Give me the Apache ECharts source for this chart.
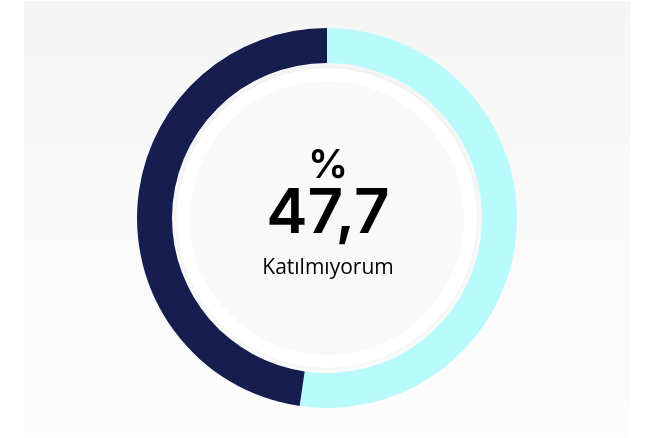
<!DOCTYPE html>
<html>
<head>
<meta charset="utf-8">
<script src="https://cdn.jsdelivr.net/npm/echarts@6/dist/echarts.min.js"></script>
<style>
  html, body { margin: 0; padding: 0; background: #ffffff; }
  #chart { width: 656px; height: 438px; }
</style>
</head>
<body>
<div id="chart"></div>
<script>
// answer categories and their share (%)
var categories = ['Katılıyorum', 'Katılmıyorum'];
var values = [52.3, 47.7];
var colors = ['#b9fbfc', '#161d4f'];
var highlight = 1; // slice shown in the middle

var chart = echarts.init(document.getElementById('chart'));

var pieData = categories.map(function (name, i) {
  return { name: name, value: values[i], itemStyle: { color: colors[i] } };
});

var centerValue = values[highlight].toFixed(1).replace('.', ',');

var option = {
  backgroundColor: '#ffffff',
  animation: false,
  graphic: [
    {
      type: 'rect',
      z: -10,
      shape: { x: 24, y: 1, width: 606, height: 437 },
      style: {
        fill: new echarts.graphic.LinearGradient(0, 0, 0, 1, [
          { offset: 0, color: '#f5f5f5' },
          { offset: 1, color: '#fdfdfd' }
        ])
      }
    },
    {
      type: 'circle',
      z: -5,
      shape: { cx: 327, cy: 218, r: 150 },
      style: { fill: '#ffffff', shadowBlur: 6, shadowColor: 'rgba(0,0,0,0.04)' }
    },
    {
      type: 'circle',
      z: -4,
      shape: { cx: 327, cy: 218, r: 137 },
      style: { fill: '#f9f9f9' }
    },
    {
      type: 'text',
      left: 'center',
      top: 146,
      style: {
        text: '%',
        font: '600 40px Inter, Lato, sans-serif',
        fill: '#000000'
      }
    },
    {
      type: 'text',
      left: 'center',
      top: 183,
      style: {
        text: centerValue,
        font: '600 62px Inter, "DejaVu Sans", sans-serif',
        fill: '#000000'
      }
    },
    {
      type: 'text',
      left: 'center',
      top: 258,
      style: {
        text: categories[highlight],
        font: '21px "Open Sans", sans-serif',
        fill: '#000000'
      }
    }
  ],
  series: [
    {
      type: 'pie',
      center: [327, 218],
      radius: [155, 190],
      startAngle: 90,
      clockwise: true,
      silent: true,
      label: { show: false },
      labelLine: { show: false },
      data: pieData
    }
  ]
};

option && chart.setOption(option);
</script>
</body>
</html>
